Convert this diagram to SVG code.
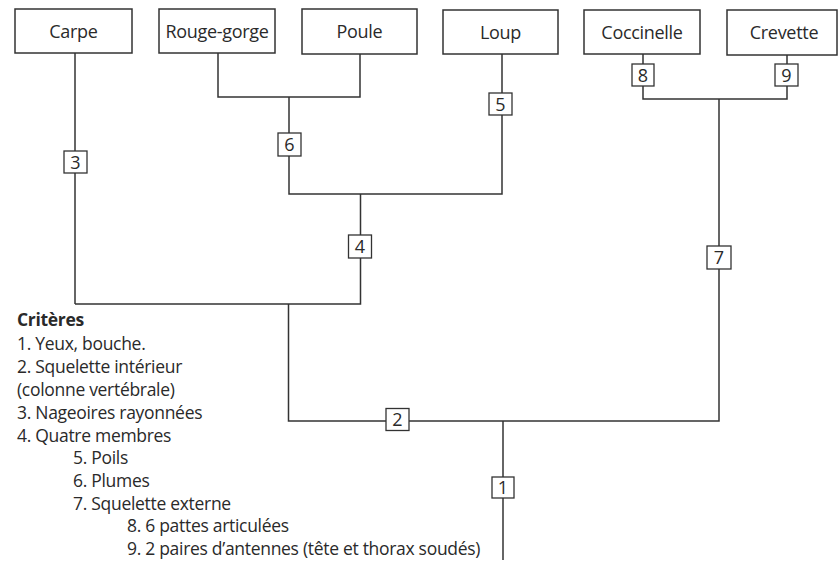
<svg xmlns="http://www.w3.org/2000/svg" width="838" height="563" viewBox="0 0 838 563">
<style>
.bg{fill:#ffffff}
.node rect{fill:#ffffff;stroke:#333;stroke-width:1.5}
.node text{font-family:"Open Sans","Liberation Sans",sans-serif;font-size:18px;letter-spacing:-0.3px;fill:#2a2a2a;text-anchor:middle}
.conn path{fill:none;stroke:#333;stroke-width:1.5}
.crit rect{fill:#ffffff;stroke:#333;stroke-width:1.3}
.crit text{font-family:"Open Sans","Liberation Sans",sans-serif;font-size:18px;fill:#2a2a2a;text-anchor:middle}
.legend text{font-family:"Open Sans","Liberation Sans",sans-serif;font-size:17.5px;letter-spacing:-0.3px;fill:#2a2a2a}
.legend .title{font-weight:bold}
</style>
<rect class="bg" x="0" y="0" width="838" height="563"/>
<g id="connectors" class="conn">
<path d="M75,53 V304"/>
<path d="M218,53 V97 H360 V54"/>
<path d="M289,97 V194 H502 V54"/>
<path d="M360.5,194 V304 H75"/>
<path d="M288.5,304 V421 H719 V99"/>
<path d="M643,54 V99 H787 V55"/>
<path d="M503,421 V560"/>
</g>
<g id="carpe" class="node"><rect x="15" y="9" width="117" height="44"/><text x="73.5" y="38">Carpe</text></g>
<g id="rouge-gorge" class="node"><rect x="159" y="9" width="116" height="44"/><text x="217" y="38">Rouge-gorge</text></g>
<g id="poule" class="node"><rect x="302" y="9" width="115" height="45"/><text x="359.5" y="38">Poule</text></g>
<g id="loup" class="node"><rect x="443" y="10" width="115" height="44"/><text x="500.5" y="39">Loup</text></g>
<g id="coccinelle" class="node"><rect x="584" y="10" width="116" height="44"/><text x="642" y="39">Coccinelle</text></g>
<g id="crevette" class="node"><rect x="727" y="10" width="110" height="45"/><text x="784" y="39">Crevette</text></g>
<g id="c3" class="crit"><rect x="64" y="151" width="23" height="22"/><text x="75.5" y="168.5">3</text></g>
<g id="c6" class="crit"><rect x="278" y="133" width="23" height="23"/><text x="289.5" y="151">6</text></g>
<g id="c5" class="crit"><rect x="489" y="93" width="23" height="22"/><text x="500.5" y="110.5">5</text></g>
<g id="c4" class="crit"><rect x="348.5" y="235" width="23" height="23"/><text x="360" y="253">4</text></g>
<g id="c2" class="crit"><rect x="386" y="408.5" width="23" height="22"/><text x="397.5" y="426">2</text></g>
<g id="c1" class="crit"><rect x="492" y="477" width="22" height="21"/><text x="503" y="494">1</text></g>
<g id="c7" class="crit"><rect x="707" y="246" width="24" height="23"/><text x="719" y="264">7</text></g>
<g id="c8" class="crit"><rect x="632" y="64" width="22" height="22"/><text x="643" y="81.5">8</text></g>
<g id="c9" class="crit"><rect x="775" y="64" width="23" height="22"/><text x="786.5" y="81.5">9</text></g>
<g id="legend" class="legend">
<text class="title" x="17" y="326">Critères</text>
<text x="17" y="350">1. Yeux, bouche.</text>
<text x="17" y="373">2. Squelette intérieur</text>
<text x="17" y="396">(colonne vertébrale)</text>
<text x="17" y="419">3. Nageoires rayonnées</text>
<text x="17" y="442">4. Quatre membres</text>
<text x="73" y="464">5. Poils</text>
<text x="73" y="487">6. Plumes</text>
<text x="73" y="510">7. Squelette externe</text>
<text x="127" y="532">8. 6 pattes articulées</text>
<text x="127" y="555">9. 2 paires d’antennes (tête et thorax soudés)</text>
</g>
</svg>
